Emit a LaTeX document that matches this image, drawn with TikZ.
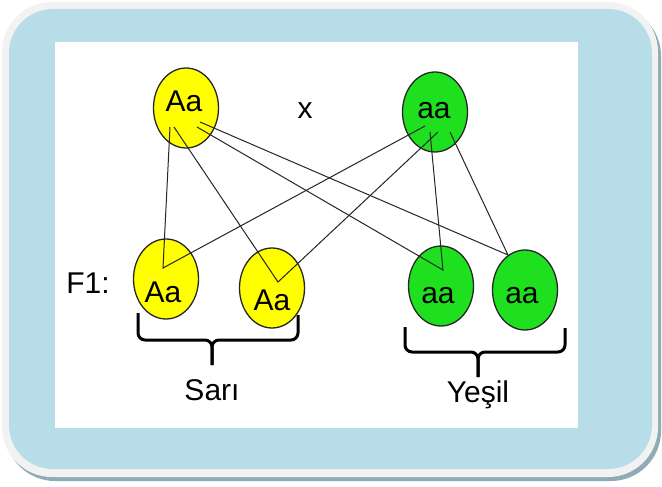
\documentclass[tikz,border=0pt]{standalone}
\usepackage{fontspec}
\setmainfont{Liberation Sans}
\usepackage{tikz}
\usetikzlibrary{shapes.geometric}

\definecolor{framebg}{HTML}{B7DEE8}
\definecolor{frameedge}{HTML}{F2F2F2}
\definecolor{frameshadow}{HTML}{8FABB3}
\definecolor{geneyellow}{HTML}{FFFF00}
\definecolor{genegreen}{HTML}{1EE01E}

\begin{document}
\begin{tikzpicture}[x=1pt, y=-1pt,
    gene/.style={draw=black!85, line width=1.3pt, ellipse, minimum width=65pt, minimum height=80pt, inner sep=0pt},
    yel/.style={gene, fill=geneyellow},
    grn/.style={gene, fill=genegreen},
    txt/.style={font=\fontsize{30}{32}\selectfont, inner sep=0pt},
    link/.style={draw=black!85, line width=1pt},
    brace/.style={line width=3pt, rounded corners=7pt}
]
\useasboundingbox (0,0) rectangle (662,487);

% frame
\fill[frameshadow, rounded corners=50] (5,6) rectangle (661,481);
\fill[frameedge, rounded corners=50] (2,2) rectangle (658,477);
\fill[framebg, rounded corners=44] (9,9) rectangle (652,469);
\fill[white] (55,42) rectangle (578,428);

% parents
\node[yel] at (186,108) (pA) {};
\node[grn] at (435,112) (pa) {};
\node[txt] at (184,101) (tpA) {Aa};
\node[txt] at (434,111) (tpa) {aa};
\node[txt] at (305,111) (cross) {x};

% F1
\node[yel] at (166,279) (fA1) {};
\node[yel] at (272,288) (fA2) {};
\node[grn] at (441,286) (fa1) {};
\node[grn] at (525,290) (fa2) {};
\node[txt] at (163,292) (tfA1) {Aa};
\node[txt] at (272,300) (tfA2) {Aa};
\node[txt] at (438,296) (tfa1) {aa};
\node[txt] at (522,296) (tfa2) {aa};
\node[txt] at (88,283) (gen) {F1:};

% line ends
\coordinate (pA-1) at (170,127);
\coordinate (pA-2) at (174,127);
\coordinate (pA-3) at (197,127);
\coordinate (pA-4) at (200,122);
\coordinate (pa-1) at (425,126);
\coordinate (pa-2) at (438,132);
\coordinate (pa-3) at (430,132);
\coordinate (pa-4) at (450,132);
\coordinate (fA1-in) at (163,268);
\coordinate (fA2-in) at (278,282);
\coordinate (fa1-in) at (443,270);
\coordinate (fa2-in) at (508,255);

\draw[link] (pA-1) -- (fA1-in) -- (pa-1);
\draw[link] (pA-2) -- (fA2-in) -- (pa-2);
\draw[link] (pA-3) -- (fa1-in) -- (pa-3);
\draw[link] (pA-4) -- (fa2-in) -- (pa-4);

% braces
\draw[brace] (138,313) -- (138,340) -- (212,340) -- (212,365);
\draw[brace] (298,315) -- (298,340) -- (212,340) -- (212,365);
\draw[brace] (405,327) -- (405,352) -- (478,352) -- (478,377);
\draw[brace] (565,328) -- (565,352) -- (478,352) -- (478,377);

\node[txt, anchor=base] at (212,400) (sari) {Sarı};
\node[txt, anchor=base] at (478,402) (yesil) {Yeşil};
\end{tikzpicture}
\end{document}
